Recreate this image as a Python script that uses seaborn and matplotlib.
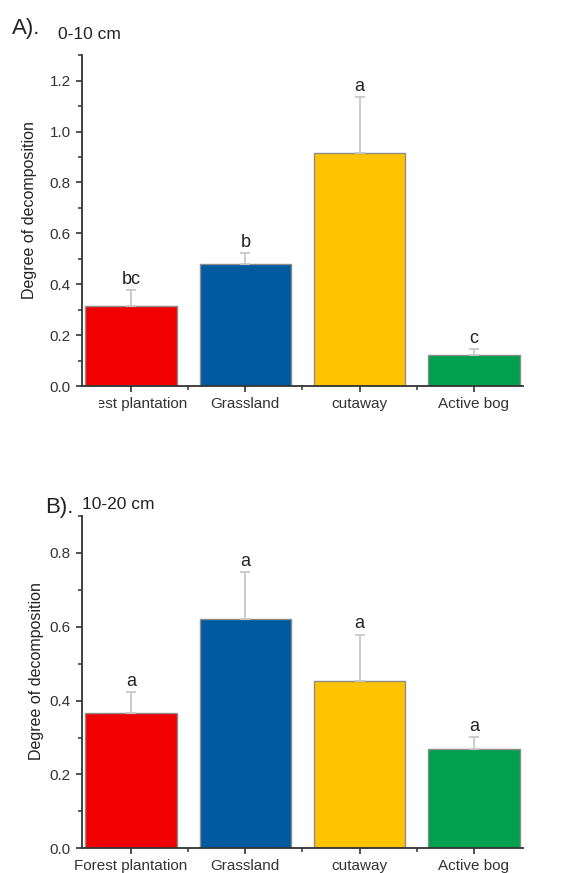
import matplotlib
matplotlib.use("Agg")
import matplotlib.pyplot as plt
import seaborn as sns
import pandas as pd
from matplotlib.ticker import MultipleLocator, FixedLocator, FormatStrFormatter
from matplotlib.patches import Rectangle

# Données
categories = ["Forest plantation", "Grassland", "cutaway", "Active bog"]
colors = ["#F00000", "#005AA0", "#FFC300", "#00A04E"]

mean_0_10 = [0.315, 0.478, 0.914, 0.122]
upper_0_10 = [0.377, 0.524, 1.136, 0.144]
letters_0_10 = ["bc", "b", "a", "c"]

mean_10_20 = [0.366, 0.620, 0.453, 0.270]
upper_10_20 = [0.422, 0.749, 0.579, 0.302]
letters_10_20 = ["a", "a", "a", "a"]

sns.set_style("ticks")
plt.rcParams['font.family'] = ['Liberation Sans', 'DejaVu Sans']

fig = plt.figure(figsize=(5.81, 8.73), dpi=100)
ax_a = fig.add_axes([0.1411, 0.5578, 0.759, 0.379])
ax_b = fig.add_axes([0.1411, 0.0283, 0.759, 0.3806])


def draw_panel(ax, means, uppers, letters, ymax, ytop, label_x):
    df = pd.DataFrame({"site": categories, "value": means})
    sns.barplot(data=df, x="site", y="value", hue="site", palette=colors,
                order=categories, hue_order=categories, width=0.8,
                saturation=1, edgecolor="#8c8c8c", linewidth=1.0,
                legend=False, ax=ax, errorbar=None)
    err = [u - m for u, m in zip(uppers, means)]
    ax.errorbar(range(len(categories)), means,
                yerr=[[0] * len(err), err], fmt="none",
                ecolor="#c8c8c8", elinewidth=1.3, capsize=3.5, capthick=1.3,
                zorder=1)
    for i, (u, lab) in enumerate(zip(uppers, letters)):
        ax.annotate(lab, (i, u), xytext=(0, 1.5), textcoords="offset points",
                    ha="center", va="bottom", fontsize=13, color="#222222")

    ax.set_xlim(-0.43, 3.43)
    ax.set_ylim(0, ymax)
    ax.set_yticks([round(0.2 * k, 1) for k in range(int(ytop / 0.2 + 1e-6) + 1)])
    ax.yaxis.set_minor_locator(MultipleLocator(0.1))
    ax.yaxis.set_major_formatter(FormatStrFormatter("%.1f"))
    ax.xaxis.set_minor_locator(FixedLocator([0.5, 1.5, 2.5]))

    ax.set_xlabel("")
    ax.set_ylabel("Degree of decomposition", fontsize=11.5, color="#222222",
                  va="center")
    ax.yaxis.set_label_coords(label_x, 0.532)

    for side in ["top", "right"]:
        ax.spines[side].set_visible(False)
    for side in ["left", "bottom"]:
        ax.spines[side].set_color("#333333")
        ax.spines[side].set_linewidth(1.3)
    ax.tick_params(axis="both", which="major", length=4.5, width=1.2,
                   color="#333333", labelsize=11, labelcolor="#333333")
    ax.tick_params(axis="both", which="minor", length=3, width=1.1,
                   color="#333333")
    ax.tick_params(axis="x", which="major", pad=3.5, labelsize=11)


draw_panel(ax_a, mean_0_10, upper_0_10, letters_0_10, 1.3, 1.2, -0.12)
draw_panel(ax_b, mean_10_20, upper_10_20, letters_10_20, 0.9, 0.8, -0.104)

# titres des panneaux
fig.text(12 / 581, 1 - 34 / 873, "A).", fontsize=16, color="#222222")
fig.text(58 / 581, 1 - 39 / 873, "0-10 cm", fontsize=12.5, color="#222222")
fig.text(45 / 581, 1 - 513 / 873, "B).", fontsize=16, color="#222222")
fig.text(82 / 581, 1 - 509 / 873, "10-20 cm", fontsize=12.5, color="#222222")

# le début de l'étiquette "Forest plantation" est masqué dans le panneau A
fig.add_artist(Rectangle((60 / 581, 1 - 422 / 873), 39 / 581, 27 / 873,
                         transform=fig.transFigure, facecolor="white",
                         edgecolor="none", zorder=10))

fig.savefig("out.png", dpi=100)
